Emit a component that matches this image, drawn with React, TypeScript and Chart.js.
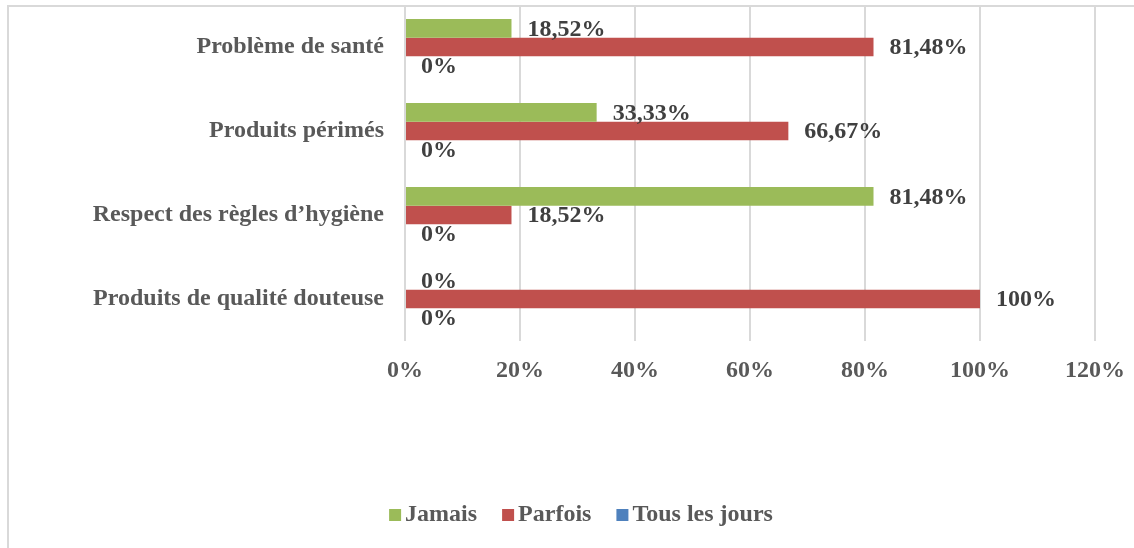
import React, { useEffect, useRef } from "react";
import { Chart, registerables } from "chart.js";

Chart.register(...registerables);

const categories = [
  "Problème de santé",
  "Produits périmés",
  "Respect des règles d’hygiène",
  "Produits de qualité douteuse",
];
const jamais = [18.52, 33.33, 81.48, 0];
const parfois = [81.48, 66.67, 18.52, 100];
const tousLesJours = [0, 0, 0, 0];
const seriesNames = ["Jamais", "Parfois", "Tous les jours"];
const seriesColors = ["#9BBB59", "#C0504D", "#4F81BD"];
const xTickMax = 120;
const xTickStep = 20;

const FONT = "'Liberation Serif', 'Times New Roman', serif";

function fmt(v: number): string {
  if (Number.isInteger(v)) return v + "%";
  return v.toFixed(2).replace(".", ",") + "%";
}

const dataLabelPlugin = {
  id: "dataLabels",
  afterDatasetsDraw(chart: any) {
    const ctx = chart.ctx;
    ctx.save();
    ctx.font = `bold 24px ${FONT}`;
    ctx.fillStyle = "#404040";
    ctx.textAlign = "left";
    ctx.textBaseline = "middle";
    chart.data.datasets.forEach((ds: any, di: number) => {
      const meta = chart.getDatasetMeta(di);
      meta.data.forEach((el: any, i: number) => {
        const v = ds.data[i] as number;
        ctx.fillText(fmt(v), el.x + 16, el.y + 1);
      });
    });
    ctx.restore();
  },
};

const customLegendPlugin = {
  id: "customLegend",
  afterDraw(chart: any) {
    const ctx = chart.ctx;
    ctx.save();
    ctx.font = `bold 24px ${FONT}`;
    const box = 12;
    const gap = 4;
    const spacing = 25;
    const items = chart.data.datasets.map((ds: any) => ({
      label: ds.label as string,
      color: ds.backgroundColor as string,
      w: ctx.measureText(ds.label).width,
    }));
    const total =
      items.reduce((s: number, it: any) => s + box + gap + it.w, 0) +
      spacing * (items.length - 1);
    let x = 581 - total / 2;
    const cy = 514;
    ctx.textBaseline = "middle";
    ctx.textAlign = "left";
    items.forEach((it: any) => {
      ctx.fillStyle = it.color;
      ctx.fillRect(x, cy - box / 2 + 1, box, box);
      ctx.fillStyle = "#595959";
      ctx.fillText(it.label, x + box + gap, cy + 1);
      x += box + gap + it.w + spacing;
    });
    ctx.restore();
  },
};

function zeroPadding(scale: any) {
  scale.paddingTop = 0;
  scale.paddingBottom = 0;
  scale.paddingLeft = 0;
  scale.paddingRight = 0;
}

export default function App() {
  const ref = useRef<HTMLCanvasElement | null>(null);

  useEffect(() => {
    if (!ref.current) return;
    const values = [jamais, parfois, tousLesJours];
    const chart = new Chart(ref.current, {
      type: "bar",
      data: {
        labels: categories,
        datasets: values.map((d, i) => ({
          label: seriesNames[i],
          data: d,
          backgroundColor: seriesColors[i],
          borderWidth: 0,
          barPercentage: 1,
          categoryPercentage: 0.667,
        })),
      },
      options: {
        indexAxis: "y",
        animation: false,
        responsive: false,
        maintainAspectRatio: false,
        layout: { padding: { top: 5, right: 39, left: 0, bottom: 147 } },
        plugins: {
          legend: { display: false },
          tooltip: { enabled: false },
        },
        scales: {
          x: {
            min: 0,
            max: xTickMax,
            ticks: {
              stepSize: xTickStep,
              color: "#595959",
              font: { family: FONT, size: 24, weight: "bold" },
              padding: 15,
              callback: (v: any) => v + "%",
            },
            grid: { color: "#D9D9D9", lineWidth: 2, drawTicks: false },
            border: { display: false },
            afterFit: (scale: any) => {
              scale.height = 60;
              zeroPadding(scale);
            },
          },
          y: {
            ticks: {
              color: "#595959",
              font: { family: FONT, size: 24, weight: "bold" },
              padding: 21,
            },
            grid: { display: false, drawTicks: false },
            border: { display: false },
            afterFit: (scale: any) => {
              scale.width = 405;
              zeroPadding(scale);
            },
          },
        },
      },
      plugins: [dataLabelPlugin, customLegendPlugin],
    } as any);
    return () => chart.destroy();
  }, []);

  return (
    <div style={{ position: "fixed", left: 0, top: 0, width: 1134, height: 548, background: "#fff" }}>
      <div
        style={{
          position: "absolute",
          left: 7,
          top: 5,
          right: 0,
          bottom: 0,
          borderLeft: "2px solid #D9D9D9",
          borderTop: "2px solid #D9D9D9",
        }}
      />
      <canvas
        ref={ref}
        width={1134}
        height={548}
        style={{ position: "absolute", left: 0, top: 0, width: 1134, height: 548 }}
      />
    </div>
  );
}
